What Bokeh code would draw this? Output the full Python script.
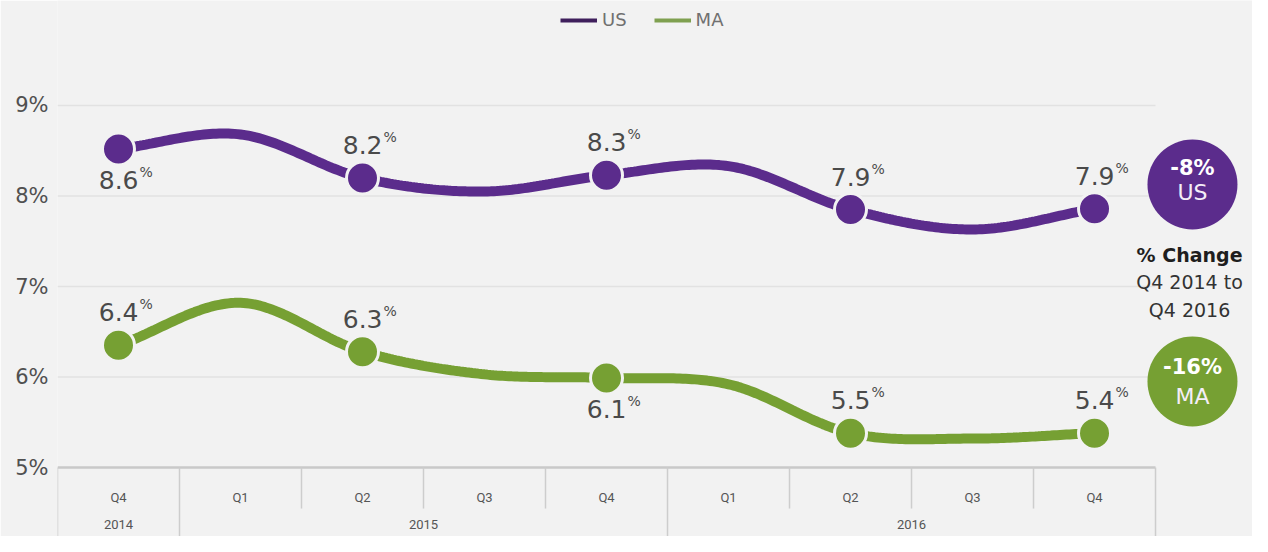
import numpy as np
from bokeh.plotting import figure
from bokeh.models import Range1d, FixedTicker, PrintfTickFormatter, Legend, LegendItem
from bokeh.core.properties import value
from bokeh.embed import file_html
from bokeh.resources import INLINE

# ---------------- data ----------------
quarters = ["Q4", "Q1", "Q2", "Q3", "Q4", "Q1", "Q2", "Q3", "Q4"]
years = ["2014", "2015", "2016"]
year_span = [(0, 0), (1, 4), (5, 8)]  # first / last quarter index for each year
us = [8.52, 8.68, 8.20, 8.05, 8.23, 8.33, 7.85, 7.63, 7.86]
ma = [6.35, 6.82, 6.28, 6.03, 5.99, 5.92, 5.38, 5.32, 5.38]
marked = [0, 2, 4, 6, 8]
us_labels = ["8.6", "8.2", "8.3", "7.9", "7.9"]
ma_labels = ["6.4", "6.3", "6.1", "5.5", "5.4"]
us_label_above = [False, True, True, True, True]
ma_label_above = [True, True, False, True, True]
yticks = [5, 6, 7, 8, 9]
change_us = "-8%"
change_ma = "-16%"

PURPLE = "#5b2c8c"
GREEN = "#76a033"
BG = "#f2f2f2"
TXT = "#4a4a4a"
FONT = "DejaVu Sans"

X0, X1 = -0.5, 9.295
Y0, Y1 = 4.238, 10.160

p = figure(width=1252, height=536, output_backend="svg", toolbar_location=None,
           x_range=Range1d(X0, X1), y_range=Range1d(Y0, Y1),
           x_axis_location=None, min_border_left=57, min_border_right=0,
           min_border_top=0, min_border_bottom=0)
p.background_fill_color = BG
p.border_fill_color = BG
p.outline_line_color = None
p.grid.visible = False

ax = p.yaxis[0]
ax.ticker = FixedTicker(ticks=yticks)
ax.formatter = PrintfTickFormatter(format="%d%%")
ax.axis_line_color = None
ax.major_tick_line_color = None
ax.minor_tick_line_color = None
ax.major_label_text_font_size = "21px"
ax.major_label_text_color = "#505050"
ax.major_label_text_font = FONT
ax.major_label_standoff = 3

n = len(quarters)
xs = list(range(n))

# gridlines (stop at the end of the category area)
gy = [t for t in yticks if t > yticks[0]]
p.segment(x0=[X0] * len(gy), x1=[n - 0.5] * len(gy), y0=gy, y1=gy,
          line_color="#e2e2e2", line_width=1.5)

# ---------------- table-style x axis ----------------
p.segment(x0=[X0], x1=[n - 0.5], y0=[yticks[0]], y1=[yticks[0]],
          line_color="#c9c9c9", line_width=2.5)
bounds = [i - 0.5 for i in range(n + 1)]
year_bounds = {year_span[0][0] - 0.5} | {s[1] + 0.5 for s in year_span}
short = [b for b in bounds if b not in year_bounds]
full = sorted(year_bounds)
p.segment(x0=short, x1=short, y0=[5] * len(short), y1=[4.547] * len(short),
          line_color="#cdcdcd", line_width=1.5)
p.segment(x0=full, x1=full, y0=[5] * len(full), y1=[Y0] * len(full),
          line_color="#cdcdcd", line_width=1.5)
p.text(x=xs, y=[4.669] * n, text=quarters, text_align="center", text_baseline="middle",
       text_font=value("Roboto"), text_font_size="13px", text_color="#555555")
p.text(x=[(a + b) / 2 for a, b in year_span], y=[4.370] * len(years), text=years,
       text_align="center", text_baseline="middle",
       text_font=value("Roboto"), text_font_size="13px", text_color="#555555")


# ---------------- smooth lines ----------------
def catmull(xv, yv, steps=40):
    xv = np.asarray(xv, float)
    yv = np.asarray(yv, float)
    P = np.vstack([xv, yv]).T
    P = np.vstack([2 * P[0] - P[1], P, 2 * P[-1] - P[-2]])
    out = []
    for i in range(1, len(P) - 2):
        p0, p1, p2, p3 = P[i - 1], P[i], P[i + 1], P[i + 2]
        t = np.linspace(0, 1, steps, endpoint=(i == len(P) - 3))[:, None]
        pt = 0.5 * ((2 * p1) + (-p0 + p2) * t + (2 * p0 - 5 * p1 + 4 * p2 - p3) * t ** 2
                    + (-p0 + 3 * p1 - 3 * p2 + p3) * t ** 3)
        out.append(pt)
    out = np.vstack(out)
    return out[:, 0], out[:, 1]


ux, uy = catmull(xs, us)
mx, my = catmull(xs, ma)
p.line(ux, uy, line_color=PURPLE, line_width=10, line_cap="round")
p.line(mx, my, line_color=GREEN, line_width=10, line_cap="round")

mk_x = [xs[i] for i in marked]
p.scatter(mk_x, [us[i] for i in marked], size=32, fill_color=PURPLE,
          line_color=BG, line_width=3)
p.scatter(mk_x, [ma[i] for i in marked], size=32, fill_color=GREEN,
          line_color=BG, line_width=3)


def value_labels(vals, labels, above):
    for x, i, lab, ab in zip(mk_x, marked, labels, above):
        yoff = -33 if ab else 31
        p.text(x=[x], y=[vals[i]], text=[lab], text_align="right", text_baseline="middle",
               x_offset=20, y_offset=yoff, text_font=value(FONT), text_font_size="25px",
               text_color=TXT)
        p.text(x=[x], y=[vals[i]], text=["%"], text_align="left", text_baseline="middle",
               x_offset=21, y_offset=yoff - 8, text_font=value(FONT), text_font_size="14px",
               text_color=TXT)


value_labels(us, us_labels, us_label_above)
value_labels(ma, ma_labels, ma_label_above)

# ---------------- right-side change badges ----------------
cx = 8.803
p.scatter([cx, cx], [8.127, 5.950], size=90, fill_color=[PURPLE, GREEN], line_color=None)
p.text(x=[cx, cx], y=[8.304, 6.116], text=[change_us, change_ma], text_align="center",
       text_baseline="middle", text_font=value(FONT), text_font_style="bold",
       text_font_size="21px", text_color="white")
p.text(x=[cx, cx], y=[8.039, 5.785], text=["US", "MA"], text_align="center",
       text_baseline="middle", text_font=value(FONT), text_font_size="22px",
       text_color="#f4eef8")
p.text(x=[8.779], y=[7.343], text=["% Change"], text_align="center", text_baseline="middle",
       text_font=value(FONT), text_font_style="bold", text_font_size="19px",
       text_color="#1e1e1e")
p.text(x=[8.779, 8.779], y=[7.055, 6.746], text=["Q4 2014 to", "Q4 2016"],
       text_align="center", text_baseline="middle", text_font=value(FONT),
       text_font_size="19px", text_color="#333333")

# ---------------- legend ----------------
lu = p.line([-5, -4], [0, 0], line_color="#3f1f5c", line_width=4)
lm = p.line([-5, -4], [0, 0], line_color="#7fa050", line_width=4)
legend = Legend(items=[LegendItem(label="US", renderers=[lu]),
                       LegendItem(label="MA", renderers=[lm])],
                orientation="horizontal", location=(503, 506),
                background_fill_alpha=0, border_line_color=None,
                label_text_font=FONT, label_text_font_size="18px",
                label_text_color="#707070", glyph_width=37, glyph_height=20,
                label_height=20, label_standoff=5, spacing=27, padding=0, margin=0)
p.add_layout(legend, "center")

open("out.html", "w").write(file_html(p, INLINE))
